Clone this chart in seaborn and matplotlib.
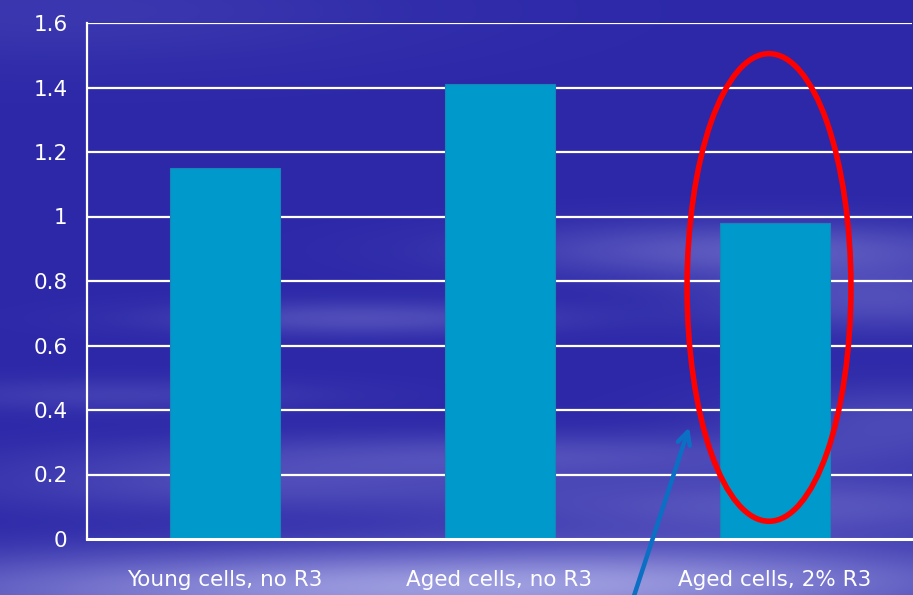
import numpy as np
import pandas as pd
import matplotlib
matplotlib.use("Agg")
import matplotlib.pyplot as plt
import seaborn as sns
from matplotlib.patches import Ellipse

# Chart data
categories = ["Young cells, no R3", "Aged cells, no R3", "Aged cells, 2% R3"]
values = [1.15, 1.41, 0.98]
y_ticks = [0, 0.2, 0.4, 0.6, 0.8, 1, 1.2, 1.4, 1.6]
y_tick_labels = ["0", "0.2", "0.4", "0.6", "0.8", "1", "1.2", "1.4", "1.6"]

W, H, DPI = 913, 595, 100
sns.set_style("white")
plt.rcParams["font.family"] = ["DejaVu Sans"]

fig = plt.figure(figsize=(W / DPI, H / DPI), dpi=DPI)

# Sky-blue backdrop with soft cloud streaks
bg_ax = fig.add_axes([0, 0, 1, 1], zorder=0)
yy, xx = np.mgrid[0:H:2, 0:W:2].astype(float)
dark = np.array([44, 40, 168]) / 255.0
light = np.array([165, 165, 228]) / 255.0
t = np.zeros_like(xx)
# (center x, center y, spread x, spread y, strength)
streaks = [
    (60, 10, 260, 40, 0.12),
    (760, 250, 180, 20, 0.40),
    (880, 300, 120, 22, 0.30),
    (360, 318, 140, 12, 0.30),
    (120, 395, 150, 12, 0.18),
    (520, 455, 260, 16, 0.28),
    (800, 505, 220, 22, 0.35),
    (250, 485, 200, 20, 0.25),
    (300, 590, 320, 28, 0.70),
    (700, 580, 260, 28, 0.50),
    (900, 420, 120, 25, 0.25),
]
for cx, cy, sx, sy, s in streaks:
    t += s * np.exp(-((xx - cx) ** 2) / (2 * sx ** 2) - ((yy - cy) ** 2) / (2 * sy ** 2))
t = np.clip(t, 0, 1)[..., None]
img = dark * (1 - t) + light * t
bg_ax.imshow(img, extent=[0, W, H, 0], aspect="auto", interpolation="bilinear")
bg_ax.set_axis_off()

# Main plotting area
left, right = 87 / W, 912 / W
bottom, top = 1 - 539 / H, 1 - 23 / H
ax = fig.add_axes([left, bottom, right - left, top - bottom], zorder=1)
ax.set_facecolor("none")

df = pd.DataFrame({"group": categories, "value": values})
sns.barplot(data=df, x="group", y="value", color="#0099CC", saturation=1,
            width=0.4, edgecolor="#1a84b8", linewidth=0.8, ax=ax, zorder=2)

ax.set_xlim(-0.5, len(categories) - 0.5)
ax.set_ylim(0, 1.6)
ax.set_yticks(y_ticks)
ax.set_yticklabels(y_tick_labels)
ax.set_xlabel("")
ax.set_ylabel("")

for yv in y_ticks[1:]:
    ax.axhline(yv, color="white", lw=1.6, zorder=1)

ax.set_xticks(np.arange(len(categories)))
ax.set_xticklabels(categories)
ax.tick_params(axis="x", length=0, pad=22, labelsize=15.5, labelcolor="white")
# category boundary tick marks
ax.set_xticks(np.arange(len(categories)) + 0.5, minor=True)
ax.tick_params(axis="x", which="minor", length=8, width=1.5, color="white", direction="out")
ax.tick_params(axis="y", length=8, width=1.5, color="white", direction="out",
               labelsize=15.5, labelcolor="white", pad=6)

for side in ["top", "right"]:
    ax.spines[side].set_visible(False)
ax.spines["left"].set_color("white")
ax.spines["left"].set_linewidth(1.6)
ax.spines["bottom"].set_color("white")
ax.spines["bottom"].set_linewidth(2.2)
ax.spines["bottom"].set_zorder(3)

# Highlight ring around the treated group
ring = Ellipse((1.98, 0.78), width=0.596, height=1.45, fill=False,
               edgecolor="#FF0000", lw=4, zorder=4, clip_on=False)
ax.add_patch(ring)

# Pointer arrow toward the highlighted group
ax.annotate("", xy=(1.693, 0.355), xytext=(1.48, -0.2),
            arrowprops=dict(arrowstyle="->,head_length=0.9,head_width=0.45",
                            color="#0B6FC4", lw=3.2),
            annotation_clip=False, zorder=5)

fig.savefig("out.png", dpi=DPI)
